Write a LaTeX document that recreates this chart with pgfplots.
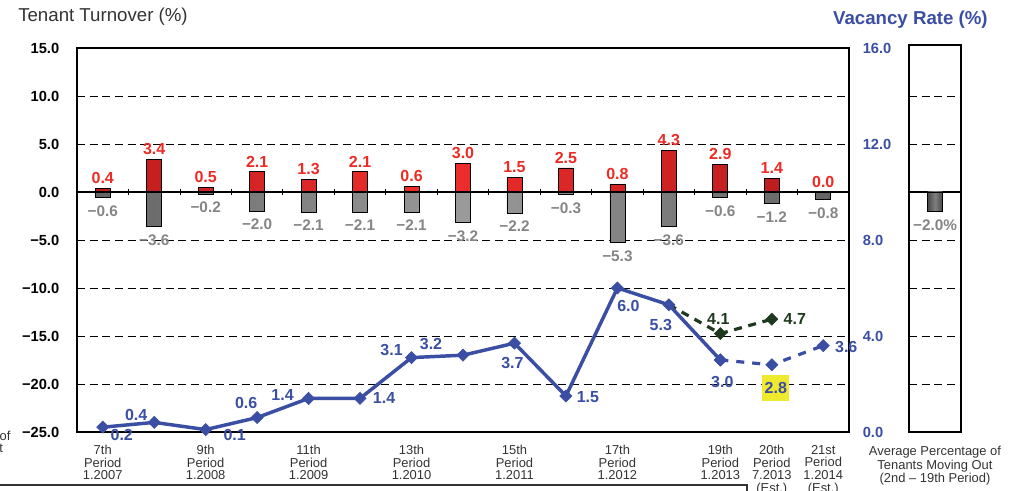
\documentclass[border=0pt]{standalone}
\usepackage{fontspec}
\setmainfont{Liberation Sans}
\usepackage{pgfplots}
\pgfplotsset{compat=1.18}
\usepackage{pgfplotstable}

\definecolor{vblue}{HTML}{3A4EA3}
\definecolor{labRed}{HTML}{EE2A24}
\definecolor{labGray}{HTML}{858585}
\definecolor{dgreen}{HTML}{1E3A1E}
\definecolor{hyel}{HTML}{F0EA2E}
\definecolor{txt}{HTML}{333333}
\definecolor{barRed}{HTML}{EE2E2C}
\definecolor{barRedD}{HTML}{BE1C1E}
\definecolor{barGray}{HTML}{9A9A9A}
\definecolor{barGrayD}{HTML}{646464}

% tenants moving in (positive) -- labels
\pgfplotstableread{
x y lab
0 0.4 0.4
1 3.4 3.4
2 0.5 0.5
3 2.1 2.1
4 1.3 1.3
5 2.1 2.1
6 0.6 0.6
7 3.0 3.0
8 1.5 1.5
9 2.5 2.5
10 0.8 0.8
11 4.3 4.3
12 2.9 2.9
13 1.4 1.4
14 0.0 0.0
}\moveIn
% bars (the 0.0 bar has no height)
\pgfplotstableread{
x y
0 0.4
1 3.4
2 0.5
3 2.1
4 1.3
5 2.1
6 0.6
7 3.0
8 1.5
9 2.5
10 0.8
11 4.3
12 2.9
13 1.4
}\moveInBars
% tenants moving out (negative)
\pgfplotstableread{
x y lab
0 -0.6 −0.6
1 -3.6 −3.6
2 -0.2 −0.2
3 -2.0 −2.0
4 -2.1 −2.1
5 -2.1 −2.1
6 -2.1 −2.1
7 -3.2 −3.2
8 -2.2 −2.2
9 -0.3 −0.3
10 -5.3 −5.3
11 -3.6 −3.6
12 -0.6 −0.6
13 -1.2 −1.2
14 -0.8 −0.8
}\moveOut
% vacancy rate, actual
\pgfplotstableread{
x y
0 0.2
1 0.4
2 0.1
3 0.6
4 1.4
5 1.4
6 3.1
7 3.2
8 3.7
9 1.5
10 6.0
11 5.3
12 3.0
}\vacA
% vacancy rate, estimate
\pgfplotstableread{
x y
12 3.0
13 2.8
14 3.6
}\vacB
% previous estimate (green)
\pgfplotstableread{
x y
11 5.3
12 4.1
13 4.7
}\vacC
\pgfplotstableread{
x y
12 4.1
13 4.7
}\vacCmarks
% label positions (offsets in px)
\pgfplotstableread{
x y lab dx dy
0 0.2 0.2 19 -8
1 0.4 0.4 -18 7
2 0.1 0.1 29 -5
3 0.6 0.6 -11 15
4 1.4 1.4 -26 3
5 1.4 1.4 24 0
6 3.1 3.1 -20 8
7 3.2 3.2 -32 11
8 3.7 3.7 -2 -20
9 1.5 1.5 22 -1
10 6.0 6.0 11 -18
11 5.3 5.3 -8 -20
12 3.0 3.0 2 -22
14 3.6 3.6 23 -1
}\vacLab
\pgfplotstableread{
x y lab dx dy
12 4.1 4.1 -2 15
13 4.7 4.7 23 0
}\vacCLab
\pgfplotstableread{
x y lab
13 2.8 2.8
}\vacHi
\pgfplotstableread{
x y lab
0 -2.0 −2.0
}\avgOut

\begin{document}
\begin{tikzpicture}
\useasboundingbox (0,0) rectangle (763.5pt,368.25pt);

% ---------- main axis: tenant turnover ----------
\begin{axis}[
  at={(57.75pt,44.25pt)}, anchor=south west, scale only axis,
  width=579pt, height=288pt,
  xmin=-0.5, xmax=14.5, ymin=-25, ymax=15,
  ytick={-25,-20,-15,-10,-5,0,5,10,15},
  yticklabels={−25.0,−20.0,−15.0,−10.0,−5.0,0.0,5.0,10.0,15.0},
  xtick={0,2,4,6,8,10,12,13,14},
  xticklabels={{7th\\Period\\1.2007},{9th\\Period\\1.2008},{11th\\Period\\1.2009},{13th\\Period\\1.2010},{15th\\Period\\1.2011},{17th\\Period\\1.2012},{19th\\Period\\1.2013},{20th\\Period\\7.2013\\(Est.)},{21st\\Period\\1.2014\\(Est.)}},
  major tick length=0pt,
  ymajorgrids,
  grid style={black, line width=0.6pt, dash pattern=on 6pt off 3.5pt},
  axis line style={black, line width=0.9pt},
  yticklabel style={font=\bfseries\fontsize{11}{13}\selectfont, text=black, xshift=-9.8pt},
  xticklabel style={align=center, font=\fontsize{9.7}{9.4}\selectfont, text=txt, yshift=-6.5pt},
  clip=false,
]
\addplot[ybar, bar width=11.25pt, bar shift=0pt, draw=black, line width=0.6pt,
  left color=barRedD, right color=barRedD, middle color=barRed]
  table[x=x,y=y] \moveInBars;
\addplot[ybar, bar width=11.25pt, bar shift=0pt, draw=black, line width=0.6pt,
  left color=barGrayD, right color=barGrayD, middle color=barGray]
  table[x=x,y=y] \moveOut;
\addplot[draw=none, mark=none, nodes near coords, point meta=explicit symbolic,
  every node near coord/.append style={anchor=south, font=\bfseries\fontsize{12}{14}\selectfont, text=labRed}]
  table[x=x,y=y,meta=lab] \moveIn;
\addplot[draw=none, mark=none, nodes near coords, point meta=explicit symbolic,
  every node near coord/.append style={anchor=north, yshift=-2.5pt, font=\bfseries\fontsize{11.5}{13}\selectfont, text=labGray}]
  table[x=x,y=y,meta=lab] \moveOut;
\end{axis}

% ---------- zero line with category ticks ----------
\begin{axis}[
  at={(57.75pt,44.25pt)}, anchor=south west, scale only axis,
  width=579pt, height=288pt,
  xmin=-0.5, xmax=14.5, ymin=-25, ymax=15,
  axis x line=middle, axis y line=none,
  x axis line style={-, black, line width=0.9pt},
  xtick={0.5,1.5,...,13.5}, xticklabels={},
  xtick align=center, major tick length=4.5pt,
  tick style={black, line width=0.6pt},
]
\end{axis}

% ---------- vacancy rate (right axis) ----------
\begin{axis}[
  at={(57.75pt,44.25pt)}, anchor=south west, scale only axis,
  width=579pt, height=288pt,
  xmin=-0.5, xmax=14.5, ymin=0, ymax=16,
  axis y line*=right, axis x line=none,
  ytick={0,4,8,12,16},
  yticklabels={0.0,4.0,8.0,12.0,16.0},
  major tick length=0pt,
  axis line style={black, line width=0.9pt},
  yticklabel style={font=\bfseries\fontsize{11}{13}\selectfont, text=vblue, xshift=6.8pt},
  clip=false,
]
\addplot[dgreen, line width=2.4pt, dash pattern=on 6pt off 5pt, mark=none] table[x=x,y=y] \vacC;
\addplot[only marks, mark=square*, mark size=3.2pt, mark options={rotate=45, fill=dgreen, draw=dgreen, solid}] table[x=x,y=y] \vacCmarks;
\addplot[vblue, line width=2.4pt, dash pattern=on 6pt off 6pt, mark=square*, mark size=3.2pt,
  mark options={rotate=45, fill=vblue, solid, line width=0.5pt}] table[x=x,y=y] \vacB;
\addplot[vblue, line width=2.6pt, mark=square*, mark size=3.2pt,
  mark options={rotate=45, fill=vblue, solid, line width=0.5pt}] table[x=x,y=y] \vacA;
\addplot[draw=none, mark=none, nodes near coords, point meta=explicit symbolic,
  visualization depends on={\thisrow{dx} \as \lx},
  visualization depends on={\thisrow{dy} \as \ly},
  every node near coord/.append style={anchor=center, xshift=\lx*0.75pt, yshift=\ly*0.75pt,
    font=\bfseries\fontsize{12}{14}\selectfont, text=vblue}]
  table[x=x,y=y,meta=lab] \vacLab;
\addplot[draw=none, mark=none, nodes near coords, point meta=explicit symbolic,
  visualization depends on={\thisrow{dx} \as \lx},
  visualization depends on={\thisrow{dy} \as \ly},
  every node near coord/.append style={anchor=center, xshift=\lx*0.75pt, yshift=\ly*0.75pt,
    font=\bfseries\fontsize{12}{14}\selectfont, text=dgreen}]
  table[x=x,y=y,meta=lab] \vacCLab;
\addplot[draw=none, mark=none, nodes near coords, point meta=explicit symbolic,
  every node near coord/.append style={anchor=center, xshift=3pt, yshift=-17.25pt,
    fill=hyel, minimum width=20.25pt, minimum height=19.5pt, inner sep=0pt,
    font=\bfseries\fontsize{12}{14}\selectfont, text=vblue}]
  table[x=x,y=y,meta=lab] \vacHi;
\end{axis}

% ---------- right panel: average moving out ----------
\begin{axis}[
  at={(681.75pt,44.25pt)}, anchor=south west, scale only axis,
  width=39pt, height=290.25pt,
  xmin=-1, xmax=1, ymin=-25, ymax=15.3125,
  xtick=\empty, ytick={-20,-15,-10,-5,5,10}, yticklabels={},
  major tick length=0pt,
  ymajorgrids,
  grid style={black, line width=0.6pt, dash pattern=on 6pt off 3.5pt},
  axis line style={black, line width=0.9pt},
  clip=false,
]
\draw[black, line width=0.8pt] (axis cs:-1,0) -- (axis cs:1,0);
\addplot[ybar, bar width=11.25pt, bar shift=0pt, draw=black, line width=0.6pt,
  left color=black!72, right color=black!72, middle color=black!50]
  table[x=x,y=y] \avgOut;
\addplot[draw=none, mark=none, nodes near coords={\pgfplotspointmeta\%}, point meta=explicit symbolic,
  every node near coord/.append style={anchor=north, yshift=-3pt, font=\bfseries\fontsize{11.5}{13}\selectfont, text=labGray}]
  table[x=x,y=y,meta=lab] \avgOut;
\end{axis}

% ---------- titles and notes ----------
\node[anchor=west, inner sep=0pt, font=\fontsize{14}{16}\selectfont, text=txt] at (13.5pt,355.5pt) {Tenant Turnover (\%)};
\node[anchor=east, inner sep=0pt, font=\bfseries\fontsize{14}{16}\selectfont, text=vblue] at (741pt,353.25pt) {Vacancy Rate (\%)};
\node[anchor=north, inner sep=0pt, align=center, font=\fontsize{9.7}{9.9}\selectfont, text=txt] at (701.25pt,33.5pt) {Average Percentage of\\Tenants Moving Out\\(2nd – 19th Period)};
\node[anchor=east, inner sep=0pt, font=\fontsize{9.7}{9.9}\selectfont, text=txt] at (8pt,40.5pt) {Average Percentage of};
\node[anchor=east, inner sep=0pt, font=\fontsize{9.7}{9.9}\selectfont, text=txt] at (2.5pt,31.5pt) {Tenants Moving Out};
\draw[txt, line width=1.1pt] (0,4.5pt) -- (560.25pt,4.5pt) -- (560.25pt,-5pt);
\end{tikzpicture}
\end{document}
